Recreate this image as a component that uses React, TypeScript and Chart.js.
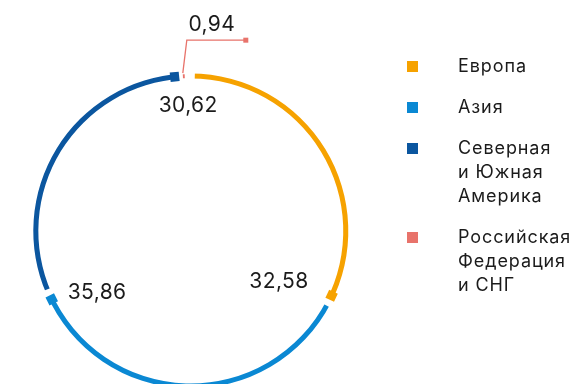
import React, { useEffect, useRef } from 'react';
import { Chart, registerables } from 'chart.js';

Chart.register(...registerables);

// ---- data ----
const categories = ['Европа', 'Азия', 'Северная и Южная Америка', 'Российская Федерация и СНГ'];
const legendLines = [['Европа'], ['Азия'], ['Северная', 'и Южная', 'Америка'], ['Российская', 'Федерация', 'и СНГ']];
const shares = [32.58, 35.86, 30.62, 0.94];
const colors = ['#F6A200', '#0A88D3', '#0B569F', '#E8736B'];

const FONT = 'Inter, "Noto Sans", sans-serif';
const fmt = (v: number) => v.toFixed(2).replace('.', ',');

const ringPlugin = {
  id: 'ringDecor',
  afterDatasetsDraw(chart: any) {
    const meta = chart.getDatasetMeta(0);
    const arcs = meta.data as any[];
    if (!arcs.length) return;
    const ctx = chart.ctx as CanvasRenderingContext2D;
    const p0 = arcs[0].getProps(['x', 'y', 'innerRadius', 'outerRadius'], true);
    const cx = p0.x, cy = p0.y;
    const rMid = (p0.innerRadius + p0.outerRadius) / 2;
    const thick = p0.outerRadius - p0.innerRadius;
    const endGap = 7 / rMid;
    const startGap = 4 / rMid;

    // gaps between segments
    ctx.save();
    ctx.globalCompositeOperation = 'destination-out';
    ctx.lineWidth = thick + 4;
    ctx.lineCap = 'butt';
    arcs.forEach((a) => {
      const { endAngle } = a.getProps(['endAngle'], true);
      ctx.beginPath();
      ctx.arc(cx, cy, rMid, endAngle - endGap, endAngle + startGap);
      ctx.stroke();
    });
    ctx.restore();

    // markers and labels
    arcs.forEach((a, i) => {
      const { startAngle, endAngle } = a.getProps(['startAngle', 'endAngle'], true);
      const arcLen = (endAngle - startAngle) * rMid;
      const ang = endAngle - endGap;
      const mx = cx + Math.cos(ang) * rMid;
      const my = cy + Math.sin(ang) * rMid;
      const tang = Math.min(9, arcLen * 0.2);
      const rad = tang < 9 ? 4 : 9.5;
      ctx.save();
      ctx.translate(mx, my);
      ctx.rotate(ang);
      ctx.fillStyle = colors[i];
      ctx.fillRect(-rad / 2, -tang / 2, rad, tang);
      ctx.restore();

      const text = fmt(shares[i]);
      ctx.save();
      ctx.fillStyle = '#1b1b1b';
      ctx.font = `21px ${FONT}`;
      (ctx as any).letterSpacing = '0.4px';
      ctx.textBaseline = 'alphabetic';
      if (tang < 9) {
        // small share: leader line above
        const topY = my - 36;
        const endX = mx + 62;
        ctx.strokeStyle = colors[i];
        ctx.lineWidth = 1.3;
        ctx.beginPath();
        ctx.moveTo(mx - 1, my - 3);
        ctx.lineTo(mx + 3, topY);
        ctx.lineTo(endX, topY);
        ctx.stroke();
        ctx.fillStyle = colors[i];
        ctx.fillRect(endX - 2.5, topY - 2.5, 5, 5);
        ctx.fillStyle = '#1b1b1b';
        ctx.textAlign = 'center';
        ctx.fillText(text, mx + 28, my - 45);
      } else if (my < cy - rMid * 0.8) {
        ctx.textAlign = 'center';
        ctx.fillText(text, mx + 13.5, my + 35);
      } else if (mx > cx) {
        ctx.textAlign = 'right';
        ctx.fillText(text, mx - 23, my - 8);
      } else {
        ctx.textAlign = 'left';
        ctx.fillText(text, mx + 16, my);
      }
      ctx.restore();
    });
  },
};

export default function App() {
  const ref = useRef<HTMLCanvasElement | null>(null);

  useEffect(() => {
    if (!ref.current) return;
    const chart = new Chart(ref.current, {
      type: 'doughnut',
      data: {
        labels: categories,
        datasets: [
          {
            data: shares,
            backgroundColor: colors,
            borderWidth: 0,
            hoverOffset: 0,
          },
        ],
      },
      options: {
        responsive: false,
        maintainAspectRatio: false,
        animation: false,
        rotation: 0,
        circumference: 360,
        cutout: '96.8%',
        layout: { padding: { left: 33.3, top: 73.5, right: 226.7, bottom: 31.5 } },
        plugins: {
          legend: { display: false },
          tooltip: { enabled: false },
        },
      },
      plugins: [ringPlugin],
    });
    return () => chart.destroy();
  }, []);

  return (
    <div
      style={{
        position: 'fixed',
        left: 0,
        top: 0,
        width: 575,
        height: 384,
        overflow: 'hidden',
        background: '#fff',
      }}
    >
      <canvas ref={ref} width={575} height={420} style={{ position: 'absolute', left: 0, top: 0 }} />
      <div
        style={{
          position: 'absolute',
          left: 0,
          top: 53.6,
          width: 575,
          fontFamily: FONT,
          fontSize: 18,
          lineHeight: '24px',
          color: '#1b1b1b',
          letterSpacing: '0.9px',
        }}
      >
        {legendLines.map((lines, i) => (
          <div key={i} style={{ position: 'relative', paddingLeft: 458, marginBottom: 17 }}>
            <span
              style={{
                position: 'absolute',
                left: 407,
                top: 7,
                width: 11,
                height: 11,
                background: colors[i],
              }}
            />
            {lines.map((l, j) => (
              <div key={j} style={{ whiteSpace: 'nowrap' }}>
                {l}
              </div>
            ))}
          </div>
        ))}
      </div>
    </div>
  );
}
